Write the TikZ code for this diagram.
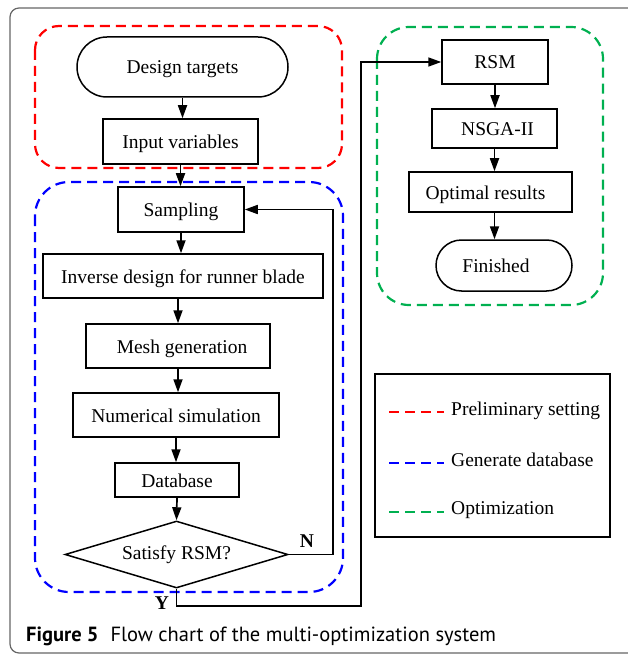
\documentclass[tikz,border=0pt]{standalone}
\usepackage{fontspec}
\setmainfont{Liberation Serif}
\newfontfamily\capfont{PT Sans}
\usetikzlibrary{shapes.misc,shapes.geometric,arrows.meta}
\definecolor{grpgreen}{RGB}{0,176,80}
\begin{document}
\begin{tikzpicture}[x=1pt,y=-1pt,
  txt/.style={font=\fontsize{19.5}{22}\selectfont},
  box/.style={txt,draw,line width=1.5pt,inner sep=0pt,rectangle,text height=16pt,text depth=2pt},
  pill/.style={txt,draw,line width=1.5pt,inner sep=0pt,rounded rectangle,text height=16pt,text depth=2pt},
  dec/.style={txt,draw,line width=1.5pt,inner sep=0pt,diamond,aspect=3.33},
  arr/.style={line width=1.7pt,-{Triangle[length=13pt,width=9pt]}},
  grp/.style={dash pattern=on 10pt off 6pt,line width=2.2pt},
  lab/.style={font=\fontsize{19.5}{22}\selectfont\bfseries,inner sep=0pt}]
\useasboundingbox (0,0) rectangle (627,655);
% outer frame
\draw[gray!80!black,line width=1.2pt,rounded corners=9pt] (10,653) -- (10,8) -- (660,8) -- (660,653) -- cycle;
% groups
\draw[grp,red,rounded corners=24pt] (35,26) rectangle (342,168);
\draw[grp,blue,rounded corners=34pt] (35,182) rectangle (343,592);
\draw[grp,grpgreen,rounded corners=32pt] (377,27) rectangle (603,305);
% left column
\node[pill,minimum width=211pt,minimum height=60pt] (dt) at (182.5,67) {Design targets};
\node[box,minimum width=155pt,minimum height=45pt] (iv) at (180.5,141.5) {Input variables};
\node[box,minimum width=126pt,minimum height=45pt] (samp) at (181,209.5) {Sampling};
\node[box,minimum width=280pt,minimum height=44pt] (inv) at (183,276) {Inverse design for runner blade};
\node[box,minimum width=184pt,minimum height=44pt] (mesh) at (178,346) {\hspace*{8pt}Mesh generation};
\node[box,minimum width=206pt,minimum height=44pt] (num) at (176,415) {Numerical simulation};
\node[box,minimum width=124pt,minimum height=34pt] (db) at (177,480) {Database};
\node[dec,minimum width=223pt,minimum height=67pt] (dia) at (176.5,554.5) {Satisfy RSM?};
% right column
\node[box,minimum width=106pt,minimum height=44pt] (rsm) at (495,62) {RSM};
\node[box,minimum width=125pt,minimum height=39pt] (nsga) at (494.5,128.5) {\hspace*{6pt}NSGA-II};
\node[box,minimum width=163pt,minimum height=40pt] (opt) at (490.5,192) {Optimal results\hspace*{10pt}};
\node[pill,minimum width=136pt,minimum height=51pt] (fin) at (504,265.5) {Finished\hspace*{16pt}};
% arrows
\draw[arr] (dt.south) -- (dt.south |- iv.north);
\draw[arr] (iv.south) -- (iv.south |- samp.north);
\draw[arr] (samp.south) -- (samp.south |- inv.north);
\draw[arr] (inv.south -| mesh.north) -- (mesh.north);
\draw[arr] (mesh.south) -- (mesh.south |- num.north);
\draw[arr] (num.south) -- (num.south |- db.north);
\draw[arr] (db.south) -- (dia.north);
\draw[arr] (rsm.south) -- (rsm.south |- nsga.north);
\draw[arr] (nsga.south) -- (nsga.south |- opt.north);
\draw[arr] (opt.south -| nsga.south) -- (nsga.south |- fin.north);
% feedback
\coordinate (nturn) at (333,0);
\coordinate (ylow) at (361,606);
\draw[arr] (dia.east) -- (dia.east -| nturn) |- (samp.east);
\draw[arr] (dia.south) |- (ylow) |- (rsm.west);
\node[lab] (nl) at (307,541) {N};
\node[lab] (yl) at (162,603) {Y};
% legend
\node[draw,line width=1.5pt,minimum width=235pt,minimum height=163pt,inner sep=0pt] (leg) at (492.5,455.5) {};
\draw[grp,red] (389,412) -- (444,412);
\draw[grp,blue] (389,463) -- (444,463);
\draw[grp,grpgreen] (389,512) -- (444,512);
\node[txt,anchor=west,inner sep=0pt] (l1) at (451,411) {Preliminary setting};
\node[txt,anchor=west,inner sep=0pt] (l2) at (451,460) {Generate database};
\node[txt,anchor=west,inner sep=0pt] (l3) at (451,510) {Optimization};
% caption
\node[anchor=base west,inner sep=0pt,font=\capfont\fontsize{20.5}{24}\selectfont] (cap) at (26,641) {\textbf{Figure 5}\hspace{12pt}Flow chart of the multi-optimization system};
\end{tikzpicture}
\end{document}
